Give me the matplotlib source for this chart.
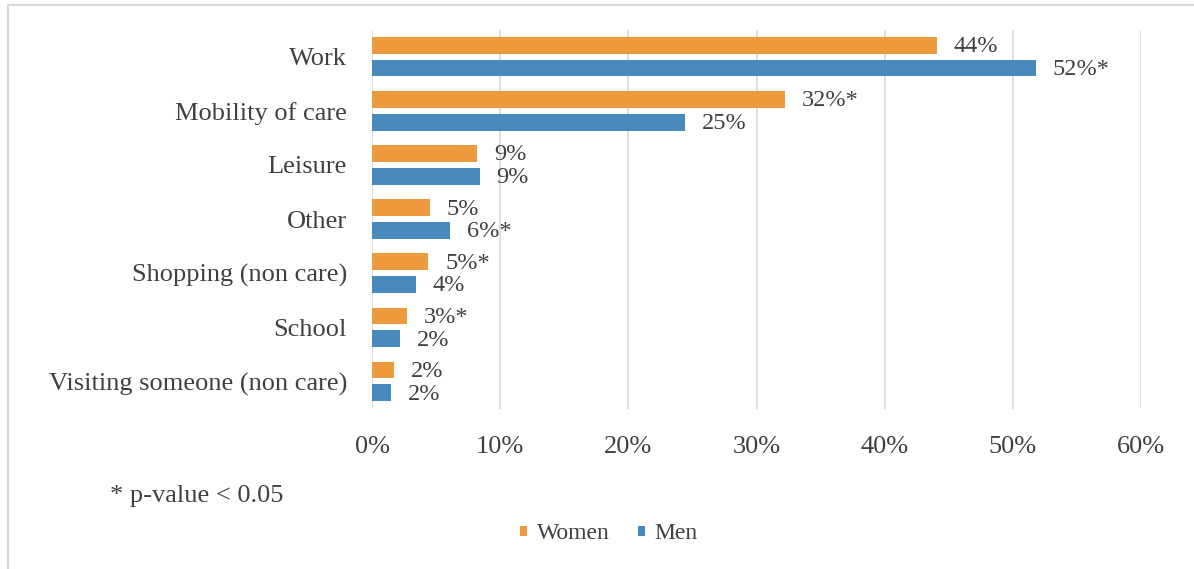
import matplotlib.pyplot as plt
import numpy as np
from matplotlib.lines import Line2D

plt.rcParams['font.family'] = ['Liberation Serif', 'DejaVu Serif']

# Datos
categorias = ["Work", "Mobility of care", "Leisure", "Other",
              "Shopping (non care)", "School", "Visiting someone (non care)"]
mujeres = [44.1, 32.2, 8.2, 4.5, 4.4, 2.7, 1.7]
hombres = [51.8, 24.4, 8.4, 6.1, 3.4, 2.2, 1.5]
etiquetas_mujeres = ["44%", "32%*", "9%", "5%", "5%*", "3%*", "2%"]
etiquetas_hombres = ["52%*", "25%", "9%", "6%*", "4%", "2%", "2%"]

color_mujeres = "#ee9a3e"
color_hombres = "#4a89bd"
gris = "#d9d9d9"
texto = "#404040"

fig = plt.figure(figsize=(11.94, 5.69), dpi=100)
ax = fig.add_axes([0.3116, 0.282, 0.6440, 0.666])

y = np.arange(len(categorias))
h = 0.31
b1 = ax.barh(y - 0.21, mujeres, height=h, color=color_mujeres, label="Women")
b2 = ax.barh(y + 0.21, hombres, height=h, color=color_hombres, label="Men")

for barras, etiquetas in [(b1, etiquetas_mujeres), (b2, etiquetas_hombres)]:
    for barra, et in zip(barras, etiquetas):
        ax.annotate(et, (barra.get_width(), barra.get_y() + barra.get_height() / 2),
                    xytext=(12, -1), textcoords="offset points",
                    ha="left", va="center", fontsize=17.5, color=texto)

ax.set_ylim(len(categorias) - 0.5, -0.5)
ax.set_xlim(0, 60)
ax.set_xticks(range(0, 61, 10))
ax.set_xticklabels([f"{v}%" for v in range(0, 61, 10)])
ax.set_yticks(y)
ax.set_yticklabels(categorias)
ax.tick_params(axis="both", length=0, labelsize=19, labelcolor=texto)
ax.tick_params(axis="x", pad=20)
ax.tick_params(axis="y", pad=18)
ax.grid(axis="x", color=gris, linewidth=1.2)
ax.set_axisbelow(True)
for s in ax.spines.values():
    s.set_visible(False)

fig.text(0.092, 0.118, "* p-value < 0.05", fontsize=19, color=texto)

fig.legend(handles=[b1, b2], loc="center", bbox_to_anchor=(0.51, 0.062), ncol=2,
           frameon=False, fontsize=17, handlelength=0.3, handleheight=0.3,
           handletextpad=0.4, columnspacing=1.2, labelcolor=texto)

# marco gris solo a la izquierda y arriba
fig.lines.append(Line2D([0.0065, 0.0065], [0, 0.991], transform=fig.transFigure,
                        color=gris, linewidth=1.5))
fig.lines.append(Line2D([0.0065, 1.0], [0.991, 0.991], transform=fig.transFigure,
                        color=gris, linewidth=1.5))

plt.savefig("out.png", dpi=100)
